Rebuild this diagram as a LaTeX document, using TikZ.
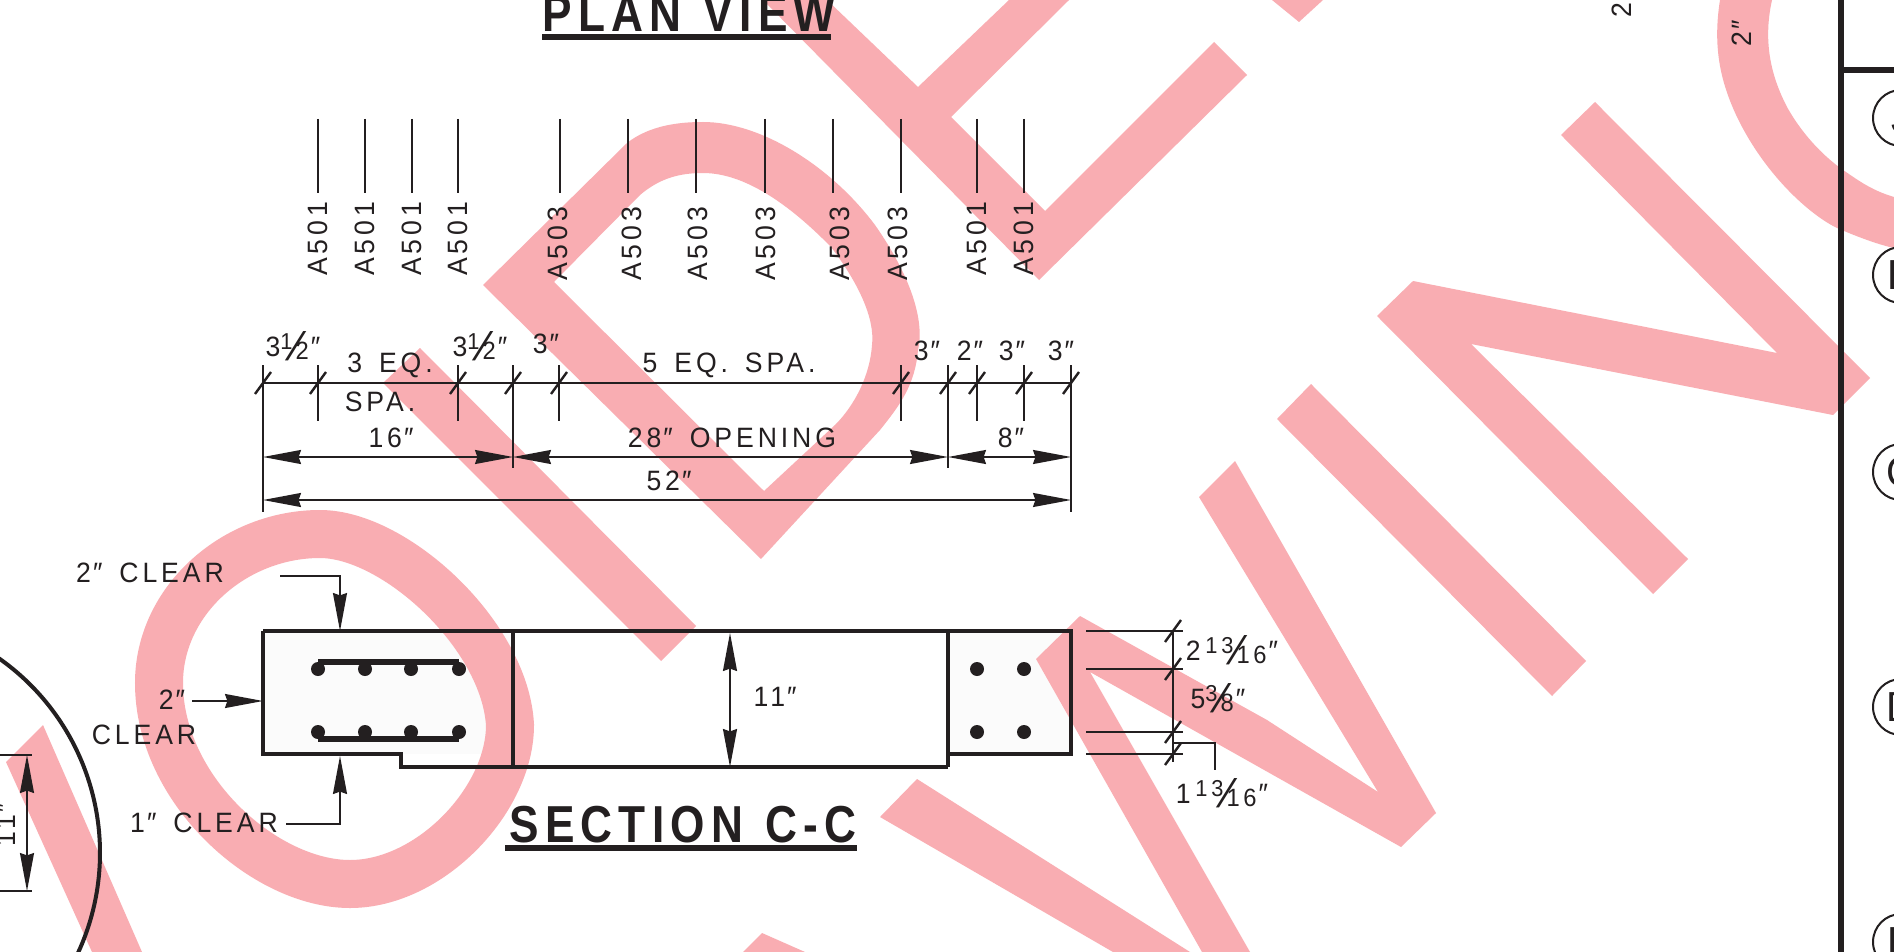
\documentclass[tikz,border=0pt]{standalone}
\usepackage{fontspec}
\setmainfont[FakeStretch=0.95,LetterSpace=14,WordSpace=1.5,BoldFeatures={FakeStretch=0.85,LetterSpace=12,WordSpace=1.2}]{Liberation Sans}
\newfontfamily\slashfont[FakeSlant=0.35]{Liberation Sans}
\usepackage{xcolor}
\usepackage{tikz}
\usetikzlibrary{arrows.meta}
\definecolor{ink}{HTML}{231F20}
\definecolor{wash}{HTML}{F9ADB2}
\definecolor{pale}{HTML}{FBFBFB}
\newcommand{\inch}{\kern1pt″}
\newcommand{\frc}[2]{\raisebox{3.6pt}{\fontsize{11.5}{11.5}\selectfont #1}\kern-3.4pt\raisebox{-1.8pt}{\slashfont\fontsize{20}{20}\selectfont /}\kern-0.6pt\raisebox{-1.6pt}{\fontsize{12.5}{12.5}\selectfont #2}}
\tikzset{
  thin line/.style={draw=ink, line width=0.8pt},
  ext/.style={draw=ink, line width=1.2pt},
  beam/.style={draw=ink, line width=2.2pt, line join=miter},
  heavy/.style={draw=ink, line width=3pt},
  bar/.style={draw=ink, line width=3pt},
  wmark/.style={fill=wash, draw=none},
  wmarkline/.style={draw=wash, line width=24pt},
  dimline/.style={draw=ink, line width=0.8pt, <->},
  rebar/.style={circle, fill=ink, inner sep=0pt, minimum size=7pt},
  lab/.style={text=ink, font=\fontsize{14}{14}\selectfont, inner sep=0pt},
  ttl/.style={text=ink, font=\bfseries\fontsize{26}{26}\selectfont, inner sep=0pt},
  bubble/.style={draw=ink, line width=1pt, circle, minimum size=28pt, inner sep=0pt, text=ink, font=\fontsize{21}{21}\selectfont},
  >={Stealth[length=19pt,width=7pt,inset=1.2pt]},
}

\begin{document}
\begin{tikzpicture}[x=0.5pt,y=-0.5pt]
  \clip (0,0) rectangle (1894,952);
  \fill[white] (0,0) rectangle (1894,952);
  \fill[pale] (263,631) rectangle (513,754);
  \fill[pale] (948,631) rectangle (1071,754);

  % stamp across the sheet
  \fill[wmark] (43,725) -- (6,762) -- (92,952) -- (142,952) -- cycle;
  \draw[wmarkline] (320,534) .. controls (395,534) and (505,635) .. (510,725) .. controls (510,800) and (430,884) .. (350,884) .. controls (265,884) and (159,790) .. (159,683) .. controls (159,600) and (235,534) .. (320,534) -- cycle;
  \fill[wmark] (420,348) -- (383,383) -- (661,661) -- (696,626) -- cycle;
  \fill[wmark, even odd rule] (483,285) -- (627,143) .. controls (650,125) and (680,122) .. (703,122) .. controls (760,122) and (830,165) .. (875,225) .. controls (910,275) and (925,320) .. (918,350) .. controls (915,385) and (900,405) .. (880,430) -- (761,559) -- cycle
    (554,282) -- (640,195) .. controls (660,178) and (680,173) .. (703,173) .. controls (745,173) and (790,205) .. (831,247) .. controls (860,285) and (875,320) .. (872,345) .. controls (870,375) and (855,405) .. (835,425) -- (764,491) -- cycle;
  \fill[wmark] (763,0) -- (1039,280) -- (1247,75) -- (1214,42) -- (1045,211) -- (951,117) -- (1069,0) -- (1009,0) -- (918,87) -- (827,0) -- cycle;
  \fill[wmark] (1272,0) -- (1299,22) -- (1323,0) -- cycle;
  \fill[wmark] (917,779) -- (880,817) -- (1113,952) -- (1190,952) -- cycle;
  \fill[wmark] (762,933) -- (743,952) -- (805,952) -- cycle;
  \fill[wmark] (1235,461) -- (1199,497) -- (1378,792) -- (1267,720) -- (1080,616) -- (1036,659) -- (1202,952) -- (1250,952) -- (1090,672) -- (1401,847) -- (1436,813) -- cycle;
  \fill[wmark] (1311,384) -- (1277,419) -- (1552,696) -- (1586,661) -- cycle;
  \fill[wmark] (1377,316) -- (1413,281) -- (1777,353) -- (1561,135) -- (1595,102) -- (1870,378) -- (1833,415) -- (1471,344) -- (1688,559) -- (1653,594) -- cycle;
  \fill[wmark] (1720,0) .. controls (1712,50) and (1722,85) .. (1737,117) .. controls (1765,175) and (1810,215) .. (1837,228) .. controls (1860,238) and (1880,245) .. (1894,248) -- (1894,197) .. controls (1870,190) and (1855,178) .. (1843,170) .. controls (1815,150) and (1797,125) .. (1787,107) .. controls (1773,80) and (1762,45) .. (1772,0) -- cycle;

  % titles
  \node[ttl] (plan) at (689,14) {PLAN VIEW};
  \draw[heavy] (542,37) -- (831,37);
  \node[ttl] (sect) at (683,825) {SECTION C-C};
  \draw[heavy] (505,848) -- (857,848);

  % bar marks
  \foreach \x/\lx/\ly/\nm in {318/318/239/A501,365/365/239/A501,412/412/239/A501,458/458/239/A501,560/558/244/A503,628/632/244/A503,696/698/244/A503,765/766/244/A503,833/840/244/A503,901/898/244/A503,977/977/239/A501,1024/1024/239/A501}{
    \draw[thin line] (\x,119) -- (\x,193);
    \node[lab, rotate=90] (m\x) at (\lx,\ly) {\nm};
  }

  % top string of dimensions
  \draw[thin line] (263,383) -- (1071,383);
  \foreach \x in {263,318,458,513,559,901,948,977,1024,1071}{
    \draw[ext] (\x,383) ++(-8,11) -- ++(16,-22);
  }
  \foreach \x in {318,458,559,901,977,1024}{
    \draw[thin line] (\x,365) -- (\x,421);
  }
  \draw[thin line] (263,365) -- (263,512);
  \draw[thin line] (513,365) -- (513,468);
  \draw[thin line] (948,365) -- (948,468);
  \draw[thin line] (1071,365) -- (1071,512);

  \coordinate (a) at (263,457);
  \coordinate (b) at (513,457);
  \coordinate (c) at (948,457);
  \coordinate (d) at (1071,457);
  \coordinate (e) at (263,500);
  \coordinate (f) at (1071,500);
  \draw[dimline] (a) -- (b);
  \draw[dimline] (b) -- (c);
  \draw[dimline] (c) -- (d);
  \draw[dimline] (e) -- (f);

  \node[lab] (s1) at (293,346) {3\frc{1}{2}\inch};
  \node[lab] (s2) at (390,365) {3 EQ.};
  \node[lab] (s3) at (380,402) {SPA.};
  \node[lab] (s4) at (480,346) {3\frc{1}{2}\inch};
  \node[lab] (s5) at (546,344) {3\inch};
  \node[lab] (s6) at (729,365) {5 EQ. SPA.};
  \node[lab] (s7) at (927,351) {3\inch};
  \node[lab] (s8) at (970,351) {2\inch};
  \node[lab] (s9) at (1012,351) {3\inch};
  \node[lab] (s10) at (1061,351) {3\inch};
  \node[lab] (s11) at (391,438) {16\inch};
  \node[lab] (s12) at (732,438) {28\inch{} OPENING};
  \node[lab] (s13) at (1011,438) {8\inch};
  \node[lab] (s14) at (669,481) {52\inch};

  % beam section
  \draw[beam] (263,631) -- (1071,631) -- (1071,754) -- (948,754);
  \draw[beam] (263,631) -- (263,754) -- (401,754) -- (401,767) -- (948,767);
  \draw[beam] (513,631) -- (513,767);
  \draw[beam] (948,631) -- (948,767);
  \draw[bar] (318,662) -- (459,662);
  \draw[bar] (318,739) -- (459,739);
  \foreach \x in {318,365,411,459,977,1024}{
    \node[rebar] (t\x) at (\x,669) {};
    \node[rebar] (u\x) at (\x,732) {};
  }
  \draw[thin line, ->] (280,576) -- (340,576) -- (340,631);
  \draw[thin line, ->] (192,701) -- (263,701);
  \draw[thin line, ->] (286,824) -- (340,824) -- (340,756);
  \draw[dimline] (730,633) -- (730,767);
  \node[lab] (c1) at (150,573) {2\inch{} CLEAR};
  \node[lab] (c2) at (172,700) {2\inch};
  \node[lab] (c3) at (144,735) {CLEAR};
  \node[lab] (c4) at (204,823) {1\inch{} CLEAR};
  \node[lab] (h1) at (775,697) {11\inch};

  % end block dimensions
  \foreach \y in {631,669,732,754}{
    \draw[ext] (1086,\y) -- (1183,\y);
    \draw[ext] (1173,\y) ++(-8,11) -- ++(16,-22);
  }
  \draw[ext] (1173,631) -- (1173,762);
  \draw[ext] (1173,743) -- (1215,743) -- (1215,770);
  \node[lab] (r1) at (1232,650) {2\,\frc{1\,3}{16}\inch};
  \node[lab] (r2) at (1218,698) {5\frc{3}{8}\inch};
  \node[lab] (r3) at (1222,793) {1\,\frc{1\,3}{16}\inch};

  % curved member at the left
  \draw[draw=ink, line width=2pt] (-138,853) ++(-55:238) arc (-55:40:238);
  \draw[thin line] (0,755) -- (32,755);
  \draw[thin line] (0,891) -- (32,891);
  \draw[dimline] (27,755) -- (27,891);
  \node[lab, rotate=90] (l1) at (6,825) {11\inch};

  % sheet border and grid marks
  \draw[heavy] (1841,0) -- (1841,952);
  \draw[heavy] (1841,70) -- (1894,70);
  \node[bubble] (g1) at (1901,118) {J};
  \node[bubble] (g2) at (1901,275) {B};
  \node[bubble] (g3) at (1901,472) {C};
  \node[bubble] (g4) at (1901,707) {D};
  \node[bubble] (g5) at (1901,942) {E};
  \node[lab, rotate=90] (n1) at (1622,4) {2\inch};
  \node[lab, rotate=90] (n2) at (1742,33) {2\inch};
\end{tikzpicture}
\end{document}
